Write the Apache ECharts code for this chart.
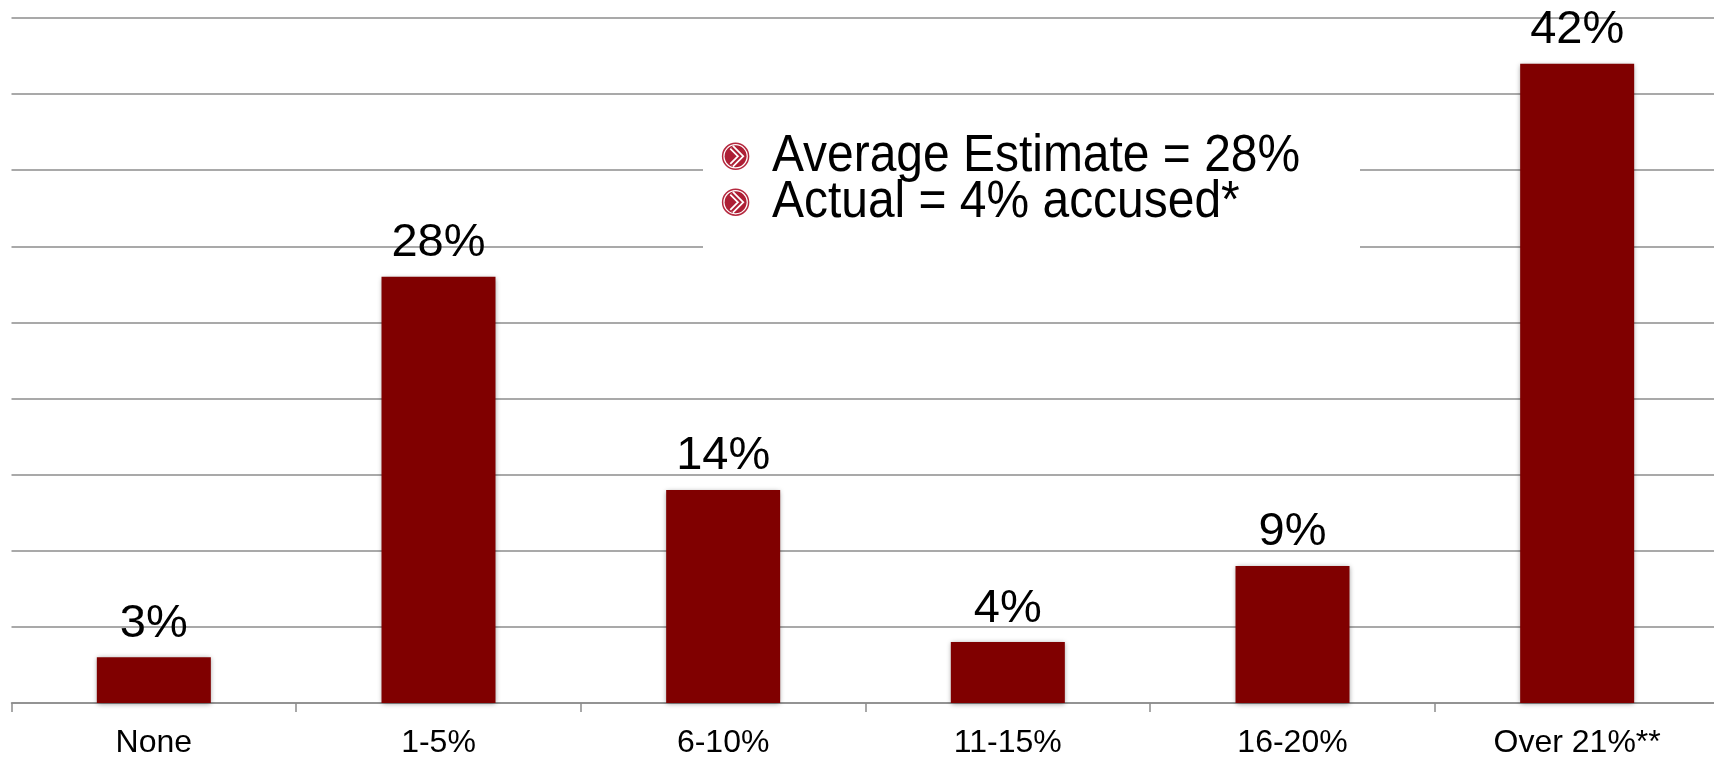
<!DOCTYPE html>
<html>
<head>
<meta charset="utf-8">
<style>html,body{margin:0;padding:0;background:#fff}#c{width:1714px;height:758px}</style>
<script src="https://cdn.jsdelivr.net/npm/echarts@6/dist/echarts.min.js"></script>
</head>
<body>
<div id="c"></div>
<script>
const categories = ['None','1-5%','6-10%','11-15%','16-20%','Over 21%**'];
const values = [3,28,14,4,9,42];
const notes = ['Average Estimate = 28%','Actual = 4% accused*'];
const FONT = '"Liberation Sans", Arial, sans-serif';
const chart = echarts.init(document.getElementById('c'), null, {renderer:'canvas'});
function icon(cy){
  const cx = 735.6;
  const pts = [[cx-4,cy-9],[cx+5,cy],[cx-4,cy+9]];
  return [
    {type:'circle',shape:{cx:cx,cy:cy,r:13},style:{fill:'#fff',stroke:'#b5293f',lineWidth:1.5},z:20},
    {type:'circle',shape:{cx:cx,cy:cy,r:11},style:{fill:'#ad1f35'},z:21},
    {type:'polyline',shape:{points:pts},style:{stroke:'#fff',fill:null,lineWidth:5.5},z:22},
    {type:'polyline',shape:{points:pts},style:{stroke:'#ad1f35',fill:null,lineWidth:2},z:23}
  ];
}
chart.setOption({
  animation:false,
  backgroundColor:'#fff',
  grid:{left:11.5,top:18,width:1708,height:685,outerBoundsMode:'none'},
  xAxis:{type:'category',data:categories,
    axisLine:{lineStyle:{color:'#8c8c8c',width:1.5}},
    axisTick:{show:true,length:9,lineStyle:{color:'#8c8c8c',width:1.5}},
    axisLabel:{color:'#000',fontFamily:FONT,fontSize:32,margin:24,interval:0,hideOverlap:false}},
  yAxis:{type:'value',min:0,max:45,interval:5,
    axisLine:{show:false},axisTick:{show:false},axisLabel:{show:false},
    splitLine:{lineStyle:{color:'#8c8c8c',width:1.5}}},
  series:[{type:'bar',data:values,barWidth:114,
    itemStyle:{color:'#800000',shadowBlur:5,shadowColor:'rgba(0,0,0,0.4)',shadowOffsetY:1},
    label:{show:true,position:'top',distance:10,formatter:'{c}%',color:'#000',fontFamily:FONT,fontSize:47}}],
  graphic:[
    {type:'rect',shape:{x:703,y:130,width:657,height:130},style:{fill:'#fff'},z:10},
    ...icon(156.3),...icon(202.2),
    {type:'text',x:772,y:131.6,scaleX:0.94,style:{text:notes[0],font:'51px '+FONT,fill:'#000'},z:24},
    {type:'text',x:772,y:177.6,scaleX:0.94,style:{text:notes[1],font:'51px '+FONT,fill:'#000'},z:24}
  ]
});
</script>
</body>
</html>
